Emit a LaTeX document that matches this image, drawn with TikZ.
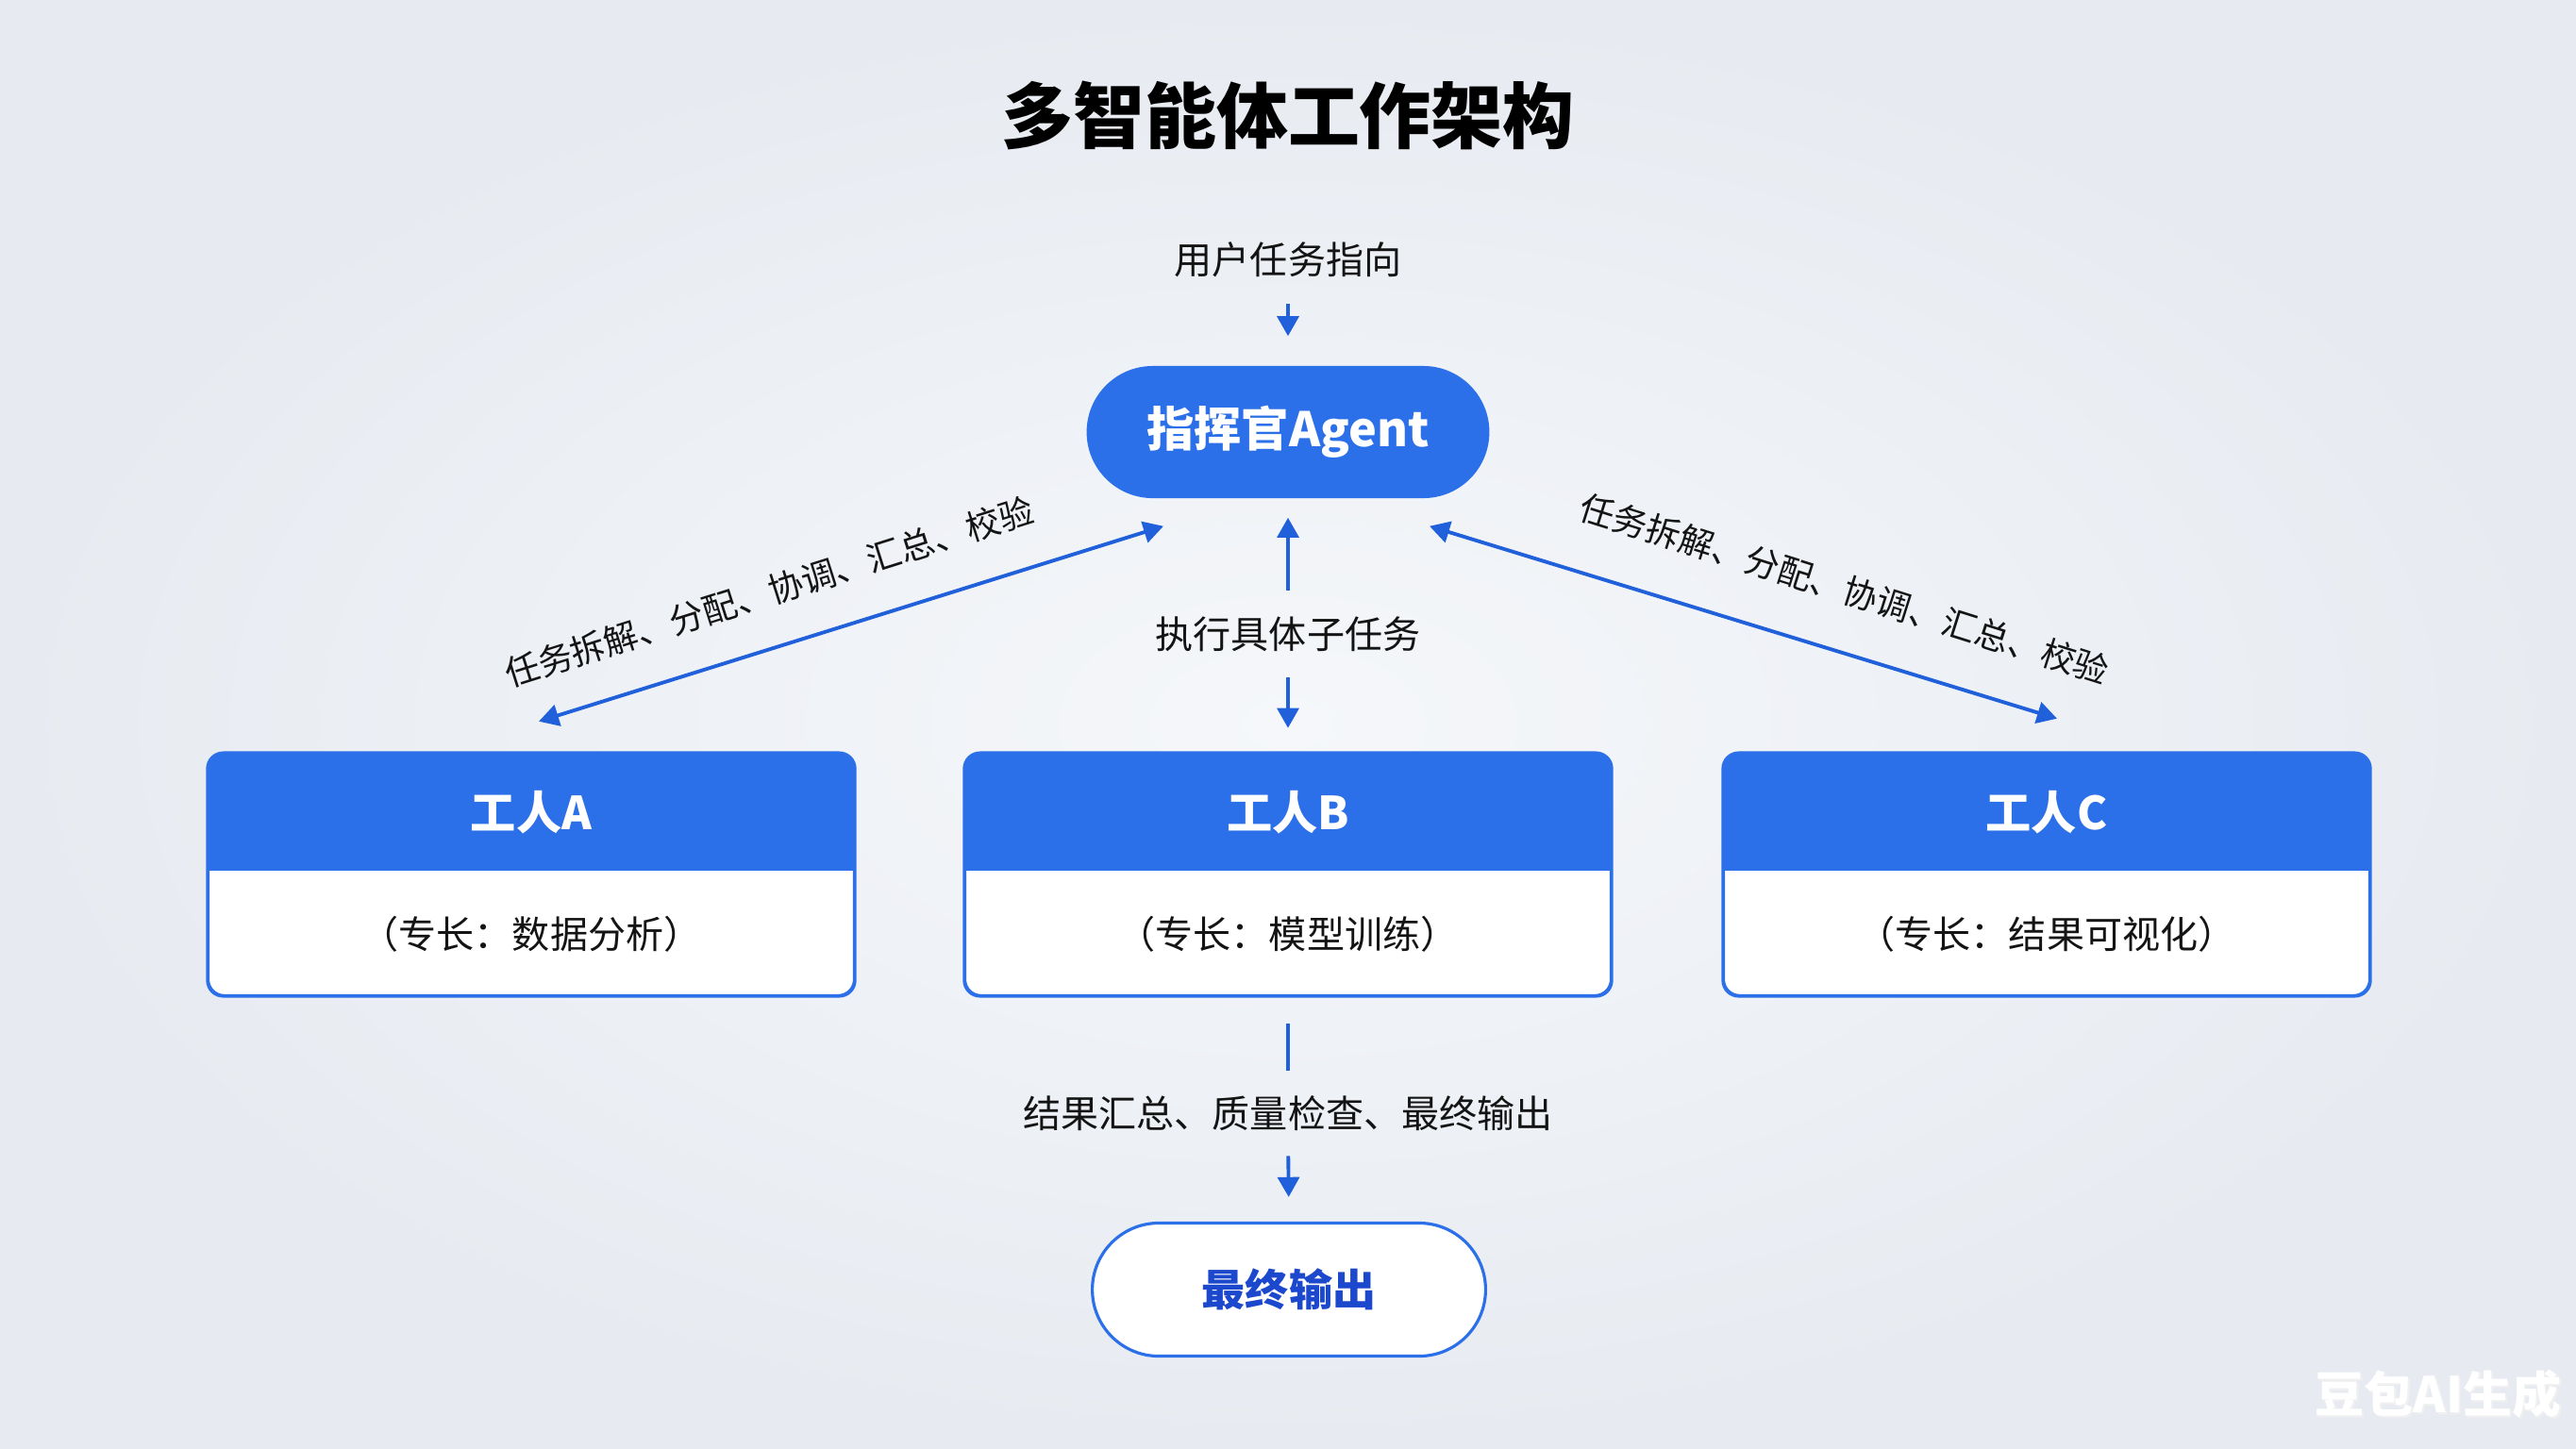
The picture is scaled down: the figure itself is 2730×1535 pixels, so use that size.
\documentclass[tikz,border=0pt]{standalone}
\usepackage{fontspec}
\setmainfont{Noto Sans CJK SC}
\usetikzlibrary{arrows.meta,calc,shapes.misc}
\definecolor{mainblue}{RGB}{43,111,233}
\definecolor{arrowblue}{RGB}{32,96,218}
\definecolor{finalblue}{RGB}{28,72,205}
\definecolor{bgin}{RGB}{245,247,250}
\definecolor{bgout}{RGB}{231,235,241}
\definecolor{inkc}{RGB}{20,20,20}
\begin{document}
\begin{tikzpicture}[x=0.01cm,y=-0.01cm,
  lbl/.style={inner sep=0pt, text=inkc, font=\fontsize{11.4pt}{13pt}\selectfont},
  diaglbl/.style={inner sep=0pt, text=inkc, font=\fontsize{10.4pt}{12pt}\selectfont},
  arr/.style={draw=arrowblue, line width=1.1pt, -{Triangle[width=6.5pt,length=6pt]}},
  darr/.style={draw=arrowblue, line width=1.1pt, {Triangle[width=6.5pt,length=6pt]}-{Triangle[width=6.5pt,length=6pt]}},
  plain/.style={draw=arrowblue, line width=1.1pt},
  agentbox/.style={rounded rectangle, fill=mainblue, minimum width=4.5cm, minimum height=1.40cm, text=white, font=\fontsize{14.3pt}{17pt}\selectfont\bfseries},
  workerbox/.style={rectangle, rounded corners=0.17cm, draw=mainblue, line width=0.7pt, fill=white, minimum width=6.84cm, minimum height=2.56cm, inner sep=0pt},
  hdrtxt/.style={inner sep=0pt, text=white, font=\fontsize{13.7pt}{16pt}\selectfont\bfseries},
  bodytxt/.style={inner sep=0pt, text=inkc, font=\fontsize{11.4pt}{13pt}\selectfont},
  finalbox/.style={rounded rectangle, draw=mainblue, line width=0.9pt, fill=white, minimum width=4.4cm, minimum height=1.41cm, text=finalblue, font=\fontsize{13.1pt}{15pt}\selectfont\bfseries}
]
\shade[inner color=bgin, outer color=bgout] (0,0) rectangle (2730,1535);
\useasboundingbox (0,0) rectangle (2730,1535);

% title
\node[inner sep=0pt, text=black, font=\fontsize{21.6pt}{25pt}\selectfont\bfseries] (title) at (1365,122) {多智能体工作架构};

% user input
\node[lbl] (user) at (1365,275) {用户任务指向};

% commander
\node[agentbox] (agent) at (1365,458) {指挥官Agent};

% middle label
\node[lbl] (mid) at (1365,672) {执行具体子任务};

% workers
\foreach \n/\x/\t/\s in {wA/563/工人A/（专长：数据分析）, wB/1365/工人B/（专长：模型训练）, wC/2169/工人C/（专长：结果可视化）}{
  \node[workerbox] (\n) at (\x,927) {};
  \fill[mainblue, rounded corners=0.17cm] (\n.north west) rectangle ($(\n.north east)+(0,125)$);
  \fill[mainblue] ($(\n.north west)+(0,60)$) rectangle ($(\n.north east)+(0,125)$);
  \draw[mainblue, line width=0.7pt, rounded corners=0.17cm] (\n.north west) rectangle (\n.south east);
  \node[hdrtxt] (\n h) at ($(\n.north)+(0,63)$) {\t};
  \node[bodytxt] (\n b) at ($(\n.south)+(0,-66)$) {\s};
}

% bottom label and final output
\node[lbl] (bot) at (1365,1180) {结果汇总、质量检查、最终输出};
\node[finalbox] (final) at (1366,1367) {最终输出};

% diagonal labels
\node[diaglbl, rotate=17.5] (dlA) at (815,627) {任务拆解、分配、协调、汇总、校验};
\node[diaglbl, rotate=-17.5] (dlC) at (1955,624) {任务拆解、分配、协调、汇总、校验};

% connectors
\draw[arr, shorten <=0.28cm, shorten >=0.31cm] (user.south) -- (agent.north);
\draw[arr, shorten <=0.27cm, shorten >=0.20cm] (mid.north) -- (agent.south);
\draw[arr, shorten <=0.27cm, shorten >=0.26cm] (mid.south) -- (wB.north);
\draw[darr] ([shift={(-132,29)}]agent.south) -- ([shift={(8,-33)}]wA.north);
\draw[darr] ([shift={(150,29)}]agent.south) -- ([shift={(11,-36)}]wC.north);
\draw[plain, shorten <=0.29cm, shorten >=0.26cm] (wB.south) -- (bot.north);
\draw[arr, shorten <=0.26cm, shorten >=0.26cm] (bot.south) -- (final.north);

% watermark
\node[inner sep=0pt, text=black!6, font=\fontsize{14.8pt}{17pt}\selectfont\bfseries] at (2586,1480) {豆包AI生成};
\node[inner sep=0pt, text=white, font=\fontsize{14.8pt}{17pt}\selectfont\bfseries] (wm) at (2584,1478) {豆包AI生成};
\end{tikzpicture}
\end{document}
